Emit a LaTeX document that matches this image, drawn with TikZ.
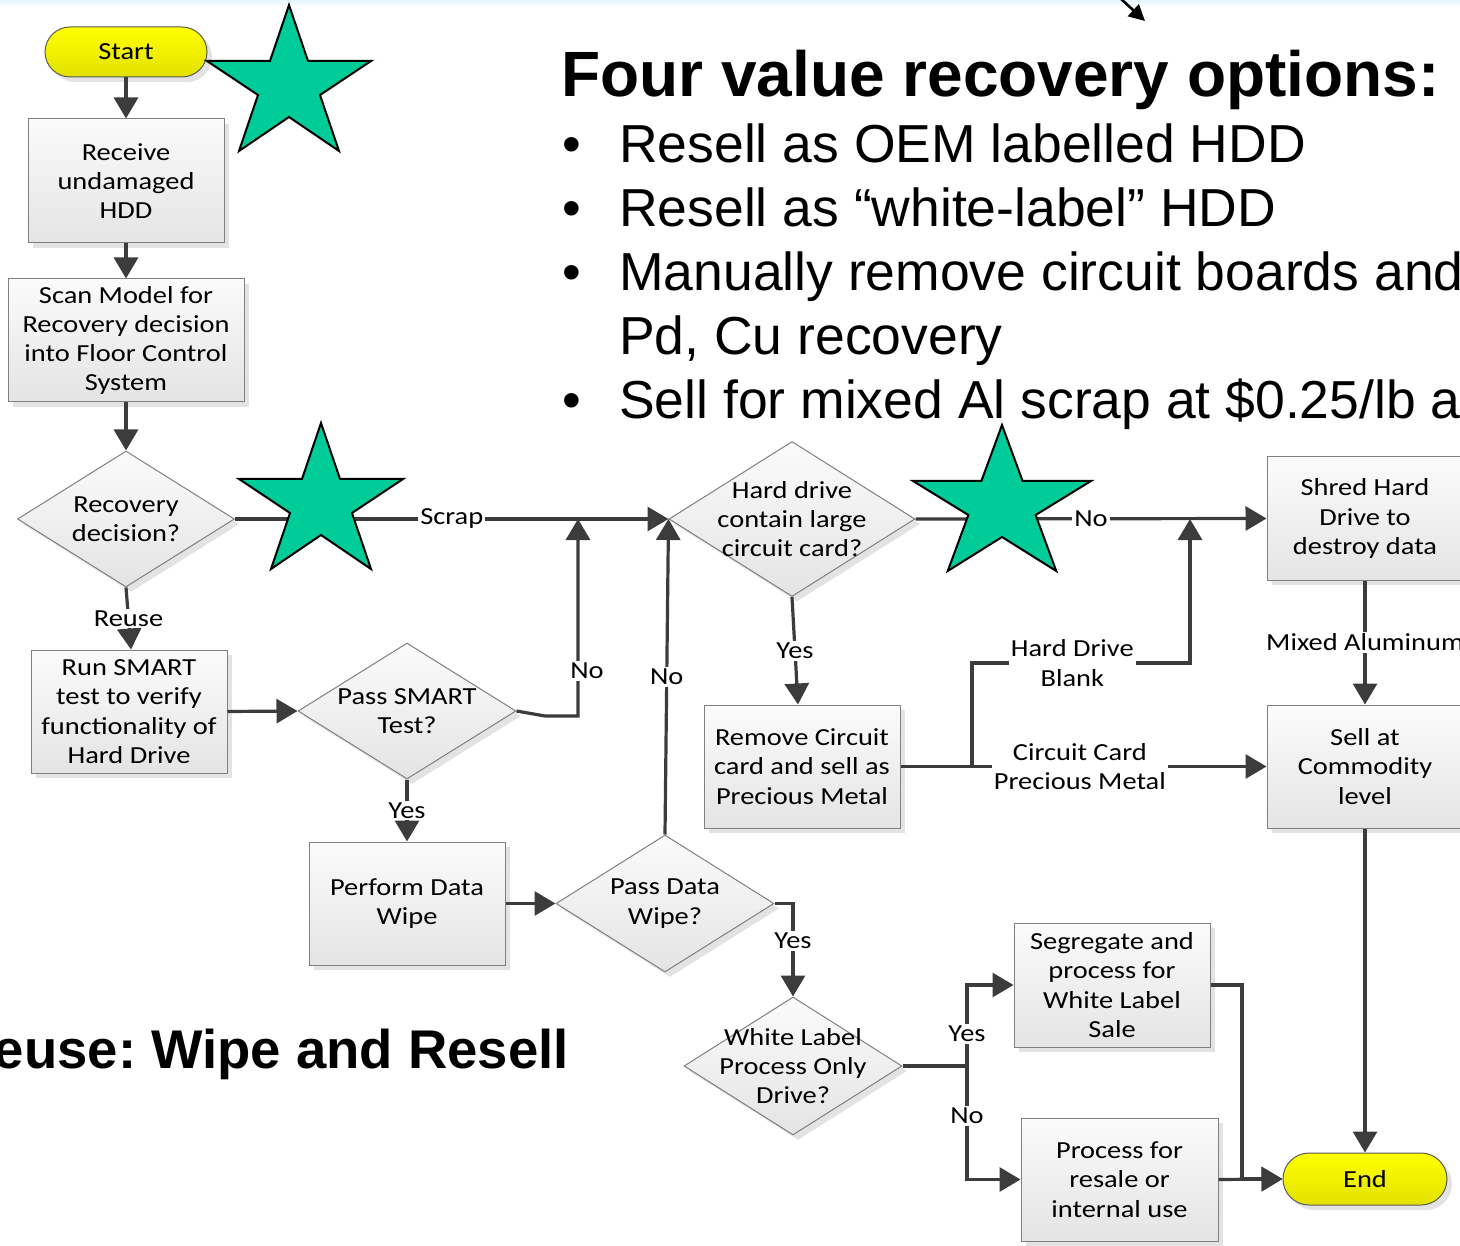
\documentclass[tikz,border=0pt]{standalone}
\usepackage{fontspec}
\usetikzlibrary{arrows.meta,shapes.geometric,shadows}
\newfontfamily\flowfont[FakeStretch=1.16]{Carlito}
\newfontfamily\headfont{Liberation Sans}
\newcommand\flowtext{\flowfont\fontsize{24.5pt}{29.3pt}\selectfont}
\newcommand\titletext{\headfont\bfseries\fontsize{64pt}{70pt}\selectfont}
\newcommand\bullettext{\headfont\fontsize{53.5pt}{60pt}\selectfont}
\newcommand\reusetext{\headfont\bfseries\fontsize{54.5pt}{60pt}\selectfont}
\frenchspacing
\definecolor{linegray}{HTML}{3C3C3C}
\definecolor{boxgray}{HTML}{808080}
\definecolor{boxtop}{HTML}{FBFBFB}
\definecolor{boxbot}{HTML}{E4E4E4}
\definecolor{termtop}{HTML}{FFFF00}
\definecolor{termbot}{HTML}{E2E200}
\definecolor{termline}{HTML}{5A5A5A}
\definecolor{stargreen}{HTML}{00CC99}
\definecolor{haze}{HTML}{E4F8FC}
\begin{document}
\begin{tikzpicture}[x=1pt,y=-1pt,
  every node/.style={inner sep=0pt},
  txt/.style={font=\flowtext, align=center},
  softshadow/.style={drop shadow={shadow xshift=5pt, shadow yshift=-5pt, fill=black, opacity=0.11}},
  box/.style={txt, draw=boxgray, line width=1pt, top color=boxtop, bottom color=boxbot, softshadow,
    minimum width=196pt, minimum height=123pt},
  dec/.style={shape=diamond, draw=boxgray, line width=1pt, top color=boxtop, bottom color=boxbot, softshadow},
  term/.style={txt, draw=termline, line width=1pt, top color=termtop, bottom color=termbot,
    rounded corners=25pt, minimum width=162pt, minimum height=50pt, softshadow},
  lbl/.style={txt, fill=white, inner sep=2pt},
  flow/.style={draw=linegray, line width=3.2pt, -{Triangle[length=21pt,width=24pt]}},
  wire/.style={draw=linegray, line width=3.2pt},
  starfill/.style={fill=stargreen, draw=black, line width=2pt, line join=miter},
  gstar/.pic={\path[starfill] (0,0) -- (19,56) -- (82,56) -- (31,90) -- (50,146) -- (0,112)
    -- (-50,146) -- (-31,90) -- (-82,56) -- (-19,56) -- cycle;},
  bul/.style={font=\bullettext, anchor=base west},
  dot/.style={font=\bullettext, anchor=base}
]
\useasboundingbox (0,0) rectangle (1460,1246);
\clip (0,0) rectangle (1460,1246);
\fill[white] (0,0) rectangle (1460,1246);
\fill[top color=haze, bottom color=white] (0,0) rectangle (1460,7);

% ---------- headings and bullet list ----------
\node[font=\titletext, anchor=base west] (title) at (561,97) {Four value recovery options:};
\node[dot] (d1) at (572,163) {•};
\node[bul] (b1) at (619,163) {Resell as OEM labelled HDD};
\node[dot] (d2) at (572,227) {•};
\node[bul] (b2) at (619,227) {Resell as “white-label” HDD};
\node[dot] (d3) at (572,291) {•};
\node[bul] (b3) at (619,291) {Manually remove circuit boards and};
\node[bul] (b4) at (619,355) {Pd, Cu recovery};
\node[dot] (d5) at (572,419) {•};
\node[bul] (b5) at (619,419) {Sell for mixed Al scrap at \$0.25/lb as};
\node[font=\reusetext, anchor=base east] (reuse) at (569,1068) {Reuse: Wipe and Resell};

% pointer entering from above
\coordinate (pa) at (1120,-2);
\coordinate (pb) at (1145,21);
\draw[black, line width=2.6pt, -{Triangle[length=16pt,width=16pt]}] (pa) -- (pb);

% ---------- flowchart nodes ----------
\node[term] (start) at (126,52) {Start};
\node[box, minimum height=124pt] (recv) at (126,181) {Receive\\undamaged\\HDD};
\node[box, minimum width=236pt] (scan) at (126,340.5) {Scan Model for\\Recovery decision\\into Floor Control\\System};
\node[dec, minimum width=217pt, minimum height=136pt] (recdec) at (126,519) {};
\node[txt] (recdec-t) at (recdec) {Recovery\\decision?};
\node[box] (smart) at (129,711.5) {Run SMART\\test to verify\\functionality of\\Hard Drive};
\node[dec, minimum width=218pt, minimum height=136pt] (passsmart) at (407,711) {};
\node[txt] (passsmart-t) at (passsmart) {Pass SMART\\Test?};
\node[box] (wipe) at (407,903.5) {Perform Data\\Wipe};
\node[dec, minimum width=218pt, minimum height=137pt] (pdw) at (665,903.5) {};
\node[txt] (pdw-t) at (pdw) {Pass Data\\Wipe?};
\node[dec, minimum width=218pt, minimum height=138pt] (wl) at (793,1066) {};
\node[txt] (wl-t) at (wl) {White Label\\Process Only\\Drive?};
\node[dec, minimum width=246pt, minimum height=155pt] (hd) at (792,519) {};
\node[txt] (hd-t) at (hd) {Hard drive\\contain large\\circuit card?};
\node[box] (remove) at (802,766.5) {Remove Circuit\\card and sell as\\Precious Metal};
\node[box] (shred) at (1365,518.5) {Shred Hard\\Drive to\\destroy data};
\node[box] (sell) at (1365,766.5) {Sell at\\Commodity\\level};
\node[box, minimum height=124pt] (seg) at (1112,985) {Segregate and\\process for\\White Label\\Sale};
\node[box, minimum width=197pt] (proc) at (1119.5,1179.5) {Process for\\resale or\\internal use};
\node[term, minimum width=164pt, minimum height=52pt, rounded corners=26pt] (end) at (1365,1179) {End};

% ---------- connectors ----------
\draw[flow] (start) -- (recv);
\draw[flow] (recv) -- (scan);
\draw[flow] (scan) -- (recdec.north);
\draw[flow] (recdec.south) -- node[lbl]{Reuse} ([xshift=2pt]smart.north);
\draw[flow] (smart.east) -- (passsmart.west);

\coordinate (scrapjoin) at (578,519);
\draw[flow] (recdec.east) -- node[lbl]{Scrap} (hd.west);
\draw[flow] (passsmart.east) -- (545,716) -- (578,716) -- node[lbl, pos=0.23, xshift=9pt]{No} (scrapjoin);
\draw[flow] (pdw.north) -- node[lbl]{No} (hd.west);

\draw[flow] (passsmart.south) -- node[lbl]{Yes} (wipe.north);
\draw[flow] (wipe.east) -- (pdw.west);
\draw[flow] (pdw.east) -- (pdw.east -| wl.north) -- node[lbl, pos=0.4]{Yes} (wl.north);

\draw[flow] (hd.east) -- node[lbl]{No} (shred.west);
\draw[flow] (hd.south) -- node[lbl]{Yes} ([xshift=-4pt]remove.north);

\coordinate (cardsplit) at (972,766.5);
\coordinate (blankjoin) at (1190,519);
\draw[flow] (remove.east) -- node[lbl, pos=0.49]{Circuit Card\\Precious Metal} (sell.west);
\draw[flow] (cardsplit) -- (972,663) -- node[lbl, pos=0.46]{Hard Drive\\Blank} (1190,663) -- (blankjoin);

\draw[flow] (shred) -- node[lbl]{Mixed Aluminum} (sell);
\draw[flow] (sell) -- (end);

\coordinate (wlsplit) at (967,1066);
\draw[wire] (wl.east) -- (wlsplit);
\draw[flow] (wlsplit) |- node[lbl, pos=0.2]{Yes} (seg.west);
\draw[flow] (wlsplit) |- node[lbl, pos=0.22]{No} (proc.west);

\coordinate (segturn) at (1242,985);
\draw[flow] (seg.east) -- (segturn) |- (end.west);
\draw[flow] (proc.east) -- (end.west);

% ---------- stars ----------
\pic at (289,5) {gstar};
\pic at (321,423) {gstar};
\pic[xscale=1.085] at (1002,425) {gstar};
\end{tikzpicture}
\end{document}
